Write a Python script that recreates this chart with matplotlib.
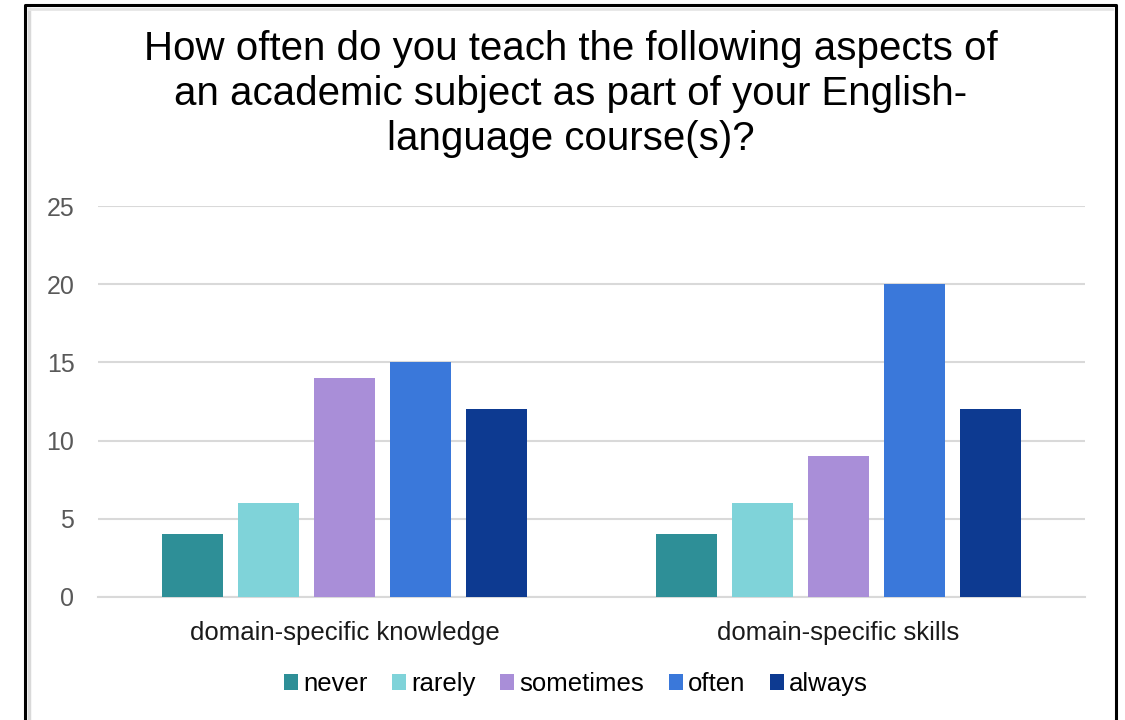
import matplotlib
matplotlib.use("Agg")
import matplotlib.pyplot as plt
from matplotlib.lines import Line2D
import numpy as np

plt.rcParams['font.family'] = ['Liberation Sans', 'DejaVu Sans']

categories = ["domain-specific knowledge", "domain-specific skills"]
responses = ["never", "rarely", "sometimes", "often", "always"]
counts = {
    "never": [4, 4],
    "rarely": [6, 6],
    "sometimes": [14, 9],
    "often": [15, 20],
    "always": [12, 12],
}
colors = ["#2E8F97", "#7FD3D9", "#A98ED8", "#3A78DA", "#0D3A91"]
title = ("How often do you teach the following aspects of\n"
         "an academic subject as part of your English-\n"
         "language course(s)?")

W, H = 1125, 720
fig = plt.figure(figsize=(W / 100, H / 100), dpi=100)

# frame around the chart
fig.add_artist(Line2D([29 / W, 29 / W], [0, 1 - 9 / H], color="#d9d9d9", lw=2.5,
                      transform=fig.transFigure))
fig.add_artist(Line2D([29 / W, 1112 / W], [1 - 9 / H, 1 - 9 / H], color="#e6e6e6", lw=2,
                      transform=fig.transFigure))
fig.add_artist(Line2D([25 / W, 25 / W, 1116 / W, 1116 / W],
                      [0, 1 - 5 / H, 1 - 5 / H, 0], color="black", lw=2.2,
                      transform=fig.transFigure))

ax = fig.add_axes([98 / W, 1 - 597 / H, (1085 - 98) / W, (597 - 206) / H])

x = np.arange(len(categories))
step = 0.154
width = 0.124
for i, (resp, col) in enumerate(zip(responses, colors)):
    ax.bar(x + (i - 2) * step, counts[resp], width=width, color=col, label=resp, zorder=3)

ax.set_xlim(-0.5, 1.5)
ax.set_ylim(0, 25)
ax.set_yticks(range(0, 26, 5))
ax.yaxis.grid(True, color="#d9d9d9", lw=1.5, zorder=0)
ax.set_axisbelow(True)
for s in ["top", "right", "left"]:
    ax.spines[s].set_visible(False)
ax.spines["bottom"].set_color("#d9d9d9")
ax.spines["bottom"].set_linewidth(1.5)
ax.tick_params(axis="y", length=0, pad=17, labelsize=18, labelcolor="#595959")
ax.tick_params(axis="x", length=0, pad=17, labelsize=18.5, labelcolor="#1a1a1a")
ax.set_xticks(x)
ax.set_xticklabels(categories)

fig.text(0.507, 1 - 30 / H, title, ha="center", va="top", fontsize=29,
         linespacing=1.24, color="black")

leg = fig.legend(loc="center", bbox_to_anchor=(0.512, 1 - 684 / H), ncol=5, frameon=False,
                 fontsize=18.5, handlelength=0.55, handleheight=0.55, handletextpad=0.2,
                 columnspacing=0.95)

fig.savefig("out.png", dpi=100)
